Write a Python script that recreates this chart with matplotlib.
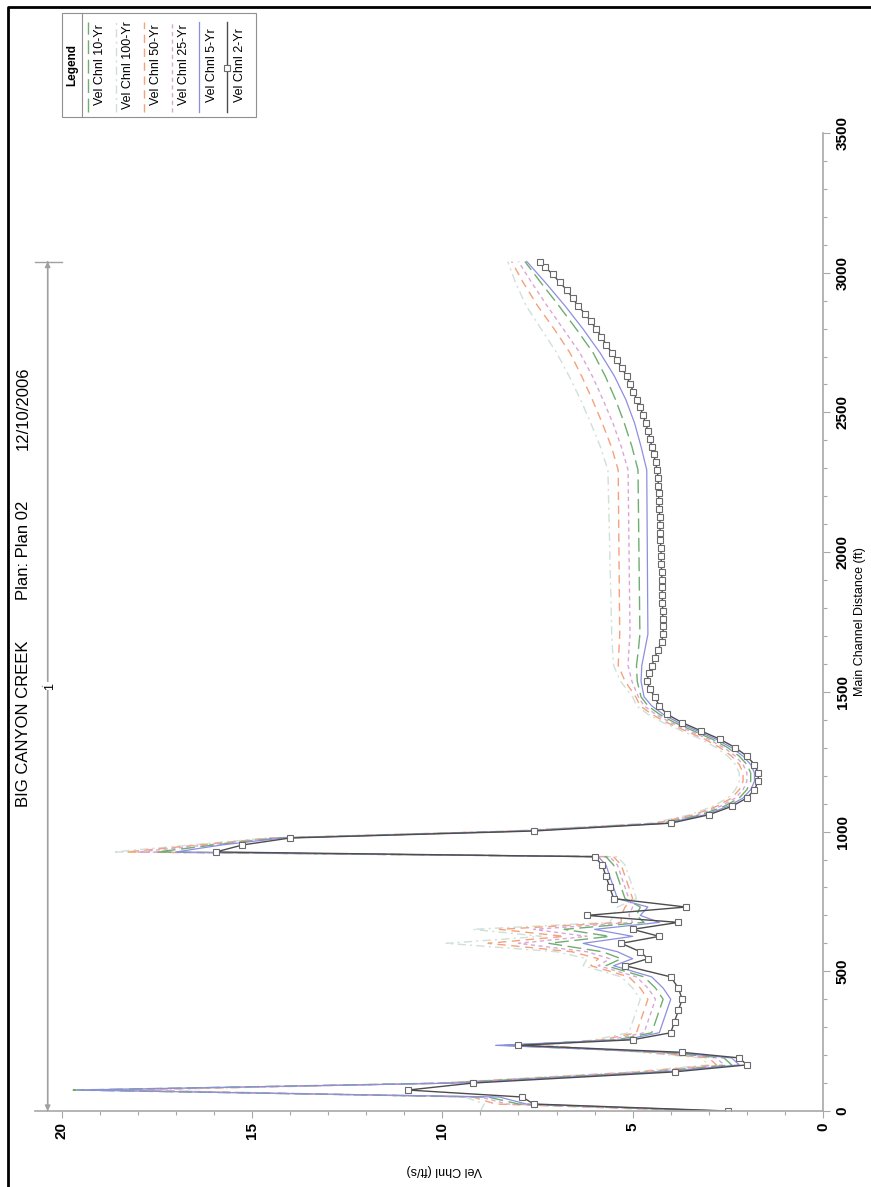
import matplotlib
matplotlib.use("Agg")
import matplotlib.pyplot as plt
from matplotlib.lines import Line2D
from matplotlib.ticker import MultipleLocator

# ---------------- data ----------------
# lower reach stations (ft) shared by all profiles
dist_low = [0, 25, 50, 75, 100, 140, 165, 190, 210, 235, 255, 280, 320, 360, 400,
            440, 480, 520, 545, 570, 600, 625, 650, 675, 700, 730, 760, 800, 840,
            880, 910, 927, 952, 977, 1002, 1030, 1060, 1090, 1120, 1150, 1180,
            1210, 1240, 1270, 1300, 1330, 1360, 1390, 1420, 1450]
# upper reach stations of the 2-Yr profile (marked cross sections)
dist_up_2yr = [1482, 1510, 1538, 1566, 1594, 1622, 1650, 1678, 1706, 1734, 1762,
               1790, 1818, 1846, 1874, 1902, 1930, 1958, 1986, 2014, 2042, 2070,
               2098, 2126, 2154, 2182, 2210, 2238, 2266, 2294, 2322, 2350, 2378,
               2406, 2434, 2462, 2490, 2518, 2546, 2574, 2602, 2630, 2658, 2686,
               2714, 2742, 2770, 2798, 2826, 2854, 2882, 2910, 2938, 2966, 2994,
               3022, 3040]
# upper reach stations read for the other profiles
dist_up = [1482, 1538, 1594, 1650, 1706, 2294, 2378, 2462, 2546, 2630, 2714,
           2798, 2882, 2966, 3040]

vel_2yr_low = [2.5, 7.6, 7.9, 10.9, 9.2, 3.9, 2.0, 2.2, 3.7, 8.0, 5.0, 4.0, 3.9, 3.8, 3.7,
               3.8, 4.0, 5.2, 4.6, 4.8, 5.3, 4.3, 5.0, 3.8, 6.2, 3.6, 5.5, 5.6, 5.7,
               5.8, 6.0, 15.95, 15.25, 14.0, 7.6, 4.0, 3.0, 2.4, 2.0, 1.8, 1.7,
               1.7, 1.8, 2.0, 2.3, 2.7, 3.2, 3.7, 4.1, 4.3]
vel_2yr_up = [4.42, 4.55, 4.62, 4.58, 4.5, 4.42, 4.34, 4.24, 4.2, 4.2, 4.21,
              4.21, 4.22, 4.22, 4.23, 4.23, 4.24, 4.25, 4.25, 4.26, 4.27, 4.28,
              4.28, 4.29, 4.3, 4.31, 4.32, 4.33, 4.33, 4.36, 4.4, 4.45, 4.5,
              4.54, 4.6, 4.66, 4.73, 4.8, 4.89, 4.98, 5.07, 5.16, 5.28, 5.41,
              5.55, 5.69, 5.82, 5.95, 6.1, 6.26, 6.44, 6.58, 6.73, 6.92, 7.1,
              7.31, 7.44]

vel_5yr_low = [2.6, 7.8, 8.5, 19.6, 9.6, 4.2, 2.2, 2.4, 4.0, 8.6, 5.2, 4.3, 4.2, 4.1, 4.0,
               4.2, 4.5, 5.5, 5.0, 5.4, 6.3, 5.0, 6.0, 4.3, 4.8, 4.6, 5.4, 5.5, 5.6,
               5.7, 5.9, 17.0, 15.8, 14.2, 7.8, 4.1, 3.1, 2.5, 2.1, 1.9, 1.8,
               1.8, 1.9, 2.1, 2.4, 2.8, 3.3, 3.8, 4.2, 4.5]
vel_5yr_up = [4.7, 4.78, 4.76, 4.68, 4.6, 4.63, 4.78, 4.95, 5.18, 5.48, 5.86,
              6.3, 6.78, 7.3, 7.78]

vel_10yr_low = [2.8, 8.0, 8.8, 19.7, 9.8, 4.4, 2.4, 2.6, 4.2, 8.4, 5.4, 4.5, 4.4, 4.3, 4.2,
                4.4, 4.7, 5.7, 5.3, 5.8, 7.2, 5.6, 6.8, 4.7, 4.9, 4.8, 5.2, 5.3, 5.4,
                5.5, 5.7, 17.5, 16.0, 14.3, 7.9, 4.2, 3.2, 2.6, 2.2, 2.0, 1.9,
                1.9, 2.0, 2.2, 2.5, 2.9, 3.4, 3.9, 4.3, 4.6]
vel_10yr_up = [4.78, 4.88, 4.9, 4.85, 4.81, 4.86, 5.02, 5.22, 5.45, 5.72, 6.04,
               6.48, 6.94, 7.42, 7.83]

vel_25yr_low = [3.0, 8.3, 9.0, 19.2, 9.9, 4.6, 2.6, 2.8, 4.4, 8.0, 5.6, 4.7, 4.6, 4.5, 4.4,
                4.6, 4.9, 5.9, 5.6, 6.2, 8.0, 6.2, 7.6, 5.0, 5.1, 5.0, 5.1, 5.2, 5.3,
                5.4, 5.6, 18.0, 16.2, 14.4, 8.0, 4.3, 3.3, 2.7, 2.3, 2.1, 2.0,
                2.0, 2.1, 2.3, 2.6, 3.0, 3.5, 4.0, 4.4, 4.7]
vel_25yr_up = [4.85, 5.02, 5.12, 5.1, 5.07, 5.12, 5.3, 5.52, 5.78, 6.06, 6.39,
               6.82, 7.25, 7.66, 8.0]

vel_50yr_low = [3.2, 8.6, 9.2, 18.5, 10.0, 4.8, 2.8, 3.0, 4.6, 7.6, 5.8, 4.9, 4.8, 4.7, 4.6,
                4.8, 5.1, 6.1, 5.9, 6.6, 8.8, 6.8, 8.5, 5.3, 5.3, 5.2, 5.0, 5.1, 5.2,
                5.3, 5.5, 18.3, 16.4, 14.5, 8.1, 4.4, 3.4, 2.8, 2.4, 2.2, 2.1,
                2.1, 2.2, 2.4, 2.7, 3.1, 3.6, 4.1, 4.5, 4.8]
vel_50yr_up = [4.92, 5.2, 5.38, 5.36, 5.34, 5.38, 5.56, 5.8, 6.06, 6.34, 6.65,
               7.06, 7.5, 7.88, 8.18]

vel_100yr_low = [9.0, 8.9, 9.4, 18.0, 10.1, 5.0, 3.0, 3.2, 4.8, 7.2, 6.0, 5.1, 5.0, 4.9, 4.8,
                 5.0, 5.3, 6.3, 6.2, 7.0, 9.9, 7.4, 9.2, 5.6, 5.5, 5.4, 4.9, 5.0, 5.1,
                 5.2, 5.4, 18.65, 16.6, 14.6, 8.2, 4.5, 3.5, 2.9, 2.5, 2.3, 2.2,
                 2.2, 2.3, 2.5, 2.8, 3.2, 3.7, 4.2, 4.6, 4.9]
vel_100yr_up = [5.0, 5.32, 5.5, 5.53, 5.55, 5.65, 5.85, 6.1, 6.37, 6.67, 7.0,
                7.4, 7.8, 8.08, 8.28]

legend_labels = ["Vel Chnl 10-Yr", "Vel Chnl 100-Yr", "Vel Chnl 50-Yr",
                 "Vel Chnl 25-Yr", "Vel Chnl 5-Yr", "Vel Chnl 2-Yr"]
title_parts = ["BIG CANYON CREEK", "Plan: Plan 02", "12/10/2006"]
reach_label = "1"

# ---------------- figure ----------------
W, H = 871, 1187
fig = plt.figure(figsize=(W / 100, H / 100), dpi=100)
fig.patch.set_facecolor("white")

def fx(px):
    return px / W

def fy(py):
    return 1 - py / H

ax_l, ax_r, ax_t, ax_b = 35, 823, 133, 1111
ax = fig.add_axes([fx(ax_l), fy(ax_b), (ax_r - ax_l) / W, (ax_b - ax_t) / H])
ax.set_xlim(20.7, 0)
ax.set_ylim(0, 3500)
ax.patch.set_alpha(0)

styles = {
    "Vel Chnl 10-Yr": dict(color="#6fae6f", lw=1.0, dashes=(10, 4)),
    "Vel Chnl 100-Yr": dict(color="#cfe0d8", lw=1.0, dashes=(6, 3, 1.5, 3)),
    "Vel Chnl 50-Yr": dict(color="#f3a27a", lw=1.0, dashes=(6, 4)),
    "Vel Chnl 25-Yr": dict(color="#dba6d6", lw=1.0, dashes=(3, 2.5)),
    "Vel Chnl 5-Yr": dict(color="#8c8fe0", lw=0.9),
    "Vel Chnl 2-Yr": dict(color="#4d4d4d", lw=1.0, marker="s", ms=5.0,
                          mfc="white", mec="#6a6a6a", mew=0.8),
}
series = [
    ("Vel Chnl 100-Yr", vel_100yr_low + vel_100yr_up, dist_low + dist_up),
    ("Vel Chnl 50-Yr", vel_50yr_low + vel_50yr_up, dist_low + dist_up),
    ("Vel Chnl 25-Yr", vel_25yr_low + vel_25yr_up, dist_low + dist_up),
    ("Vel Chnl 10-Yr", vel_10yr_low + vel_10yr_up, dist_low + dist_up),
    ("Vel Chnl 5-Yr", vel_5yr_low + vel_5yr_up, dist_low + dist_up),
    ("Vel Chnl 2-Yr", vel_2yr_low + vel_2yr_up, dist_low + dist_up_2yr),
]
for name, vals, dd in series:
    ax.plot(vals, dd, **styles[name])

# axes styling
for s in ["top", "left"]:
    ax.spines[s].set_visible(False)
for s in ["right", "bottom"]:
    ax.spines[s].set_color("#a8a8a8")
    ax.spines[s].set_linewidth(1.2)
ax.yaxis.tick_right()
ax.xaxis.set_major_locator(MultipleLocator(5))
ax.xaxis.set_minor_locator(MultipleLocator(1))
ax.yaxis.set_major_locator(MultipleLocator(500))
ax.yaxis.set_minor_locator(MultipleLocator(100))
ax.tick_params(which="both", color="#a8a8a8", direction="out", width=0.8)
ax.tick_params(which="major", length=5)
ax.tick_params(which="minor", length=3)
ax.tick_params(axis="x", labelsize=11, pad=3, labelrotation=90)
ax.tick_params(axis="y", labelsize=11, pad=4, labelrotation=90)
for lab in ax.get_xticklabels():
    lab.set_fontweight("bold")
    lab.set_va("top")
    lab.set_ha("center")
for lab in ax.get_yticklabels():
    lab.set_fontweight("bold")
    lab.set_va("center")
    lab.set_ha("left")
for lab in ax.get_xticklabels() + ax.get_yticklabels():
    lab.set_fontfamily("Liberation Sans")

# axis labels
fig.text(fx(860), fy(622), "Main Channel Distance (ft)", rotation=90,
         ha="center", va="center", fontsize=9, family="Liberation Sans")
fig.text(fx(444), fy(1170), "Vel Chnl (ft/s)", rotation=180,
         ha="center", va="center", fontsize=9, family="Liberation Sans")

# title (rotated, reads bottom to top)
fig.text(fx(23), fy(807), title_parts[0], rotation=90, ha="center", va="bottom",
         fontsize=12, family="Liberation Sans")
fig.text(fx(23), fy(600), title_parts[1], rotation=90, ha="center", va="bottom",
         fontsize=12, family="Liberation Sans")
fig.text(fx(23), fy(450), title_parts[2], rotation=90, ha="center", va="bottom",
         fontsize=12, family="Liberation Sans")

# reach arrow
v_arrow = (ax_r - 48) / ((ax_r - 62) / 20.0)
d_end = dist_up_2yr[-1]
for a, b in [(d_end, 0), (0, d_end)]:
    ax.annotate("", xy=(v_arrow, b), xytext=(v_arrow, a),
                arrowprops=dict(arrowstyle="-|>", color="#a0a0a0", lw=1.0,
                                shrinkA=0, shrinkB=0, mutation_scale=8),
                annotation_clip=False)
fig.add_artist(Line2D([fx(35), fx(62)], [fy(262), fy(262)], color="#a0a0a0", lw=1.0))
fig.add_artist(Line2D([fx(42), fx(54)], [fy(686), fy(686)], color="#a0a0a0", lw=1.0))
fig.text(fx(50), fy(686), reach_label, rotation=90, ha="center", va="center",
         fontsize=9, family="Liberation Sans",
         bbox=dict(facecolor="white", edgecolor="none", pad=0.5))

# legend (drawn manually, rotated)
lg_l, lg_r, lg_t, lg_b = 62, 256, 13, 117
fig.add_artist(plt.Rectangle((fx(lg_l), fy(lg_b)), (lg_r - lg_l) / W, (lg_b - lg_t) / H,
                             transform=fig.transFigure, fill=False,
                             edgecolor="#909090", lw=0.8))
fig.add_artist(Line2D([fx(82), fx(82)], [fy(lg_t), fy(lg_b)], color="#909090", lw=0.8))
fig.text(fx(72), fy(65), "Legend", rotation=90, ha="center", va="center",
         fontsize=8.5, fontweight="bold", family="Liberation Sans")
line_x = [88, 116, 144, 172, 199, 227]
text_x = [100, 128, 156, 184, 212, 240]
for lab, lx, tx in zip(legend_labels, line_x, text_x):
    st = dict(styles[lab])
    kw = dict(color=st["color"], lw=st["lw"])
    if "dashes" in st:
        kw["dashes"] = st["dashes"]
    fig.add_artist(Line2D([fx(lx), fx(lx)], [fy(112), fy(22)], **kw))
    if "marker" in st:
        fig.add_artist(Line2D([fx(lx)], [fy(68)], marker="s", ms=4, mfc="white",
                              mec="#6a6a6a", mew=0.8, lw=0))
    fig.text(fx(tx), fy(65), lab, rotation=90, ha="center", va="center",
             fontsize=9, family="Liberation Sans")

# outer page border
fig.add_artist(Line2D([fx(8), fx(8), fx(871)], [fy(1187), fy(7), fy(7)],
                      color="black", lw=2.0))

fig.savefig("out.png", dpi=100, facecolor="white")
